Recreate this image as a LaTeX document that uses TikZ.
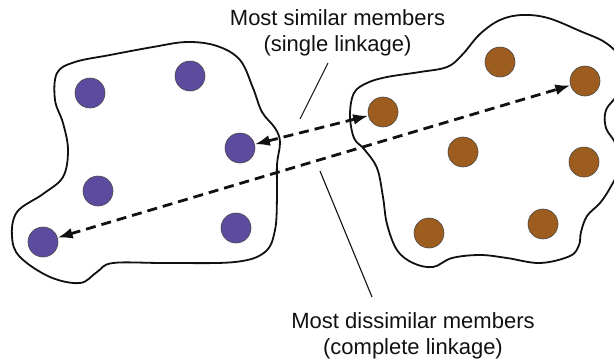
\documentclass[tikz,border=0pt]{standalone}
\usepackage{fontspec}
\setmainfont{Liberation Sans}
\usetikzlibrary{arrows.meta}
\definecolor{ink}{HTML}{111111}
\definecolor{violet}{HTML}{5C4B9F}
\definecolor{rust}{HTML}{9C5D1F}
\definecolor{rim}{HTML}{4A4A4A}
\tikzset{
dot/.style={circle,minimum size=30pt,inner sep=0pt,draw=rim,line width=.6pt},
purpledot/.style={dot,fill=violet},
browndot/.style={dot,fill=rust},
blob/.style={draw=ink,line width=1.8pt,smooth cycle,tension=.6},
linkflow/.style={{Latex[length=15pt,width=11pt]}-{Latex[length=15pt,width=11pt]},line width=2.8pt,draw=ink,dash pattern=on 10pt off 6pt},
leader/.style={draw=ink,line width=1.1pt},
tag/.style={font=\fontsize{22}{26}\selectfont,align=center,inner sep=0pt,text=ink}}
\begin{document}
\begin{tikzpicture}[x=1pt,y=-1pt]
\useasboundingbox (0,0) rectangle (614,360);
\clip (0,0) rectangle (614,360);
% cluster outlines
\draw[blob] plot coordinates {(57,73) (75,62) (110,55) (153,47) (187,42) (217,46) (240,60) (253,88) (262,112) (275,128) (280,142) (277,165) (277,197) (275,230) (265,252) (235,262) (167,263) (113,263) (97,272) (80,283) (50,277) (20,257) (12,237) (17,212) (43,194) (63,177) (68,150) (63,123) (55,100)};
\draw[blob] plot coordinates {(350,115) (354,93) (367,83) (387,77) (420,72) (447,67) (462,55) (480,34) (500,20) (522,15) (548,18) (580,31) (606,43) (620,60) (618,92) (606,110) (606,128) (616,145) (618,170) (610,188) (600,203) (587,216) (581,232) (579,245) (570,256) (540,263) (507,258) (480,255) (452,258) (433,267) (413,263) (397,250) (387,224) (383,197) (377,168) (364,149) (354,138)};
% left cluster
\node[purpledot] (p1) at (90,93) {};
\node[purpledot] (p2) at (190,76) {};
\node[purpledot] (p3) at (240,148) {};
\node[purpledot] (p4) at (98,191) {};
\node[purpledot] (p5) at (236,228) {};
\node[purpledot] (p6) at (43,242) {};
% right cluster
\node[browndot] (b1) at (500,62) {};
\node[browndot] (b2) at (585,81) {};
\node[browndot] (b3) at (383,112) {};
\node[browndot] (b4) at (463,152) {};
\node[browndot] (b5) at (584,162) {};
\node[browndot] (b6) at (429,233) {};
\node[browndot] (b7) at (543,224) {};
% linkages
\draw[linkflow] (p3)--(b3);
\draw[linkflow] (p6)--(b2);
% labels
\node[tag] (single) at (337.5,33) {Most similar members\\(single linkage)};
\node[tag] (complete) at (413,336) {Most dissimilar members\\(complete linkage)};
\coordinate (s1) at (328,63);
\coordinate (s2) at (300,119);
\coordinate (c1) at (320,171);
\coordinate (c2) at (372,297);
\draw[leader] (s1)--(s2);
\draw[leader] (c1)--(c2);
\end{tikzpicture}
\end{document}
